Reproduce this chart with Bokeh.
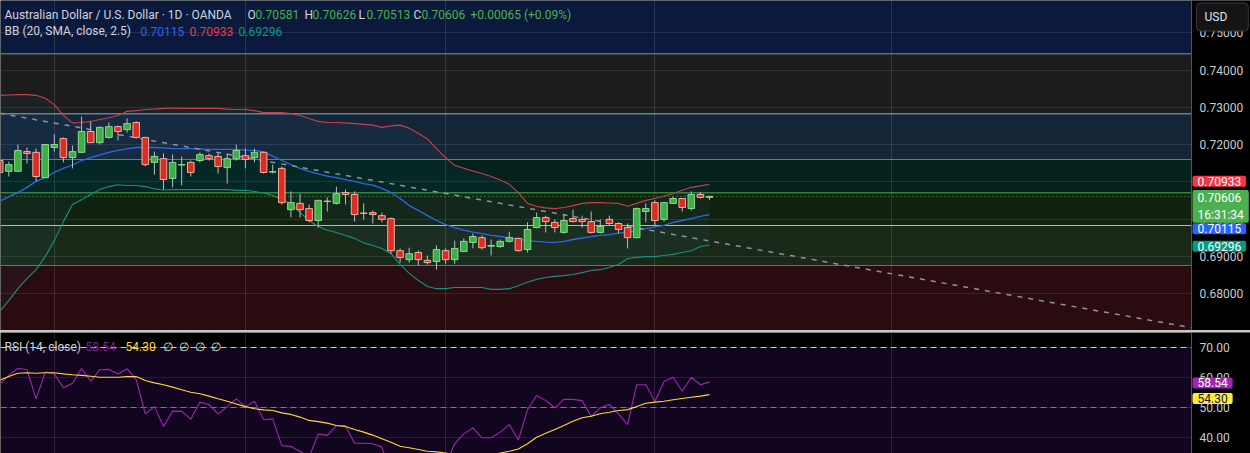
from bokeh.plotting import figure
from bokeh.layouts import column
from bokeh.models import (ColumnDataSource, Range1d, FixedTicker, NumeralTickFormatter,
                          BoxAnnotation, Span, Label, Spacer)
from bokeh.embed import file_html
from bokeh.resources import INLINE

# ---------------- data ----------------
bars = list(range(1, 80))

opens = [0.7157, 0.7128, 0.7128, 0.7181, 0.7179, 0.7111, 0.7192, 0.7216, 0.7165, 0.7179,
         0.7235, 0.7205, 0.7219, 0.7248, 0.7240, 0.7259, 0.7219, 0.7152, 0.7162, 0.7109,
         0.7145, 0.7152, 0.7157, 0.7170, 0.7168, 0.7138, 0.7162, 0.7170, 0.7165, 0.7179,
         0.7126, 0.7136, 0.7025, 0.7042, 0.7028, 0.6996, 0.7048, 0.7042, 0.7071, 0.7066,
         0.7016, 0.7017, 0.7009, 0.7001, 0.6915, 0.6891, 0.6910, 0.6889, 0.6886, 0.6915,
         0.6891, 0.6913, 0.6937, 0.6950, 0.6927, 0.6926, 0.6940, 0.6948, 0.6918, 0.6977,
         0.7004, 0.6991, 0.6964, 0.7001, 0.6999, 0.6993, 0.6964, 0.6999, 0.6988, 0.6977,
         0.6950, 0.7020, 0.7044, 0.6999, 0.7042, 0.7055, 0.7028, 0.7066, 0.70581]
highs = [0.7162, 0.7154, 0.7200, 0.7192, 0.7189, 0.7201, 0.7227, 0.7219, 0.7197, 0.7275,
         0.7262, 0.7248, 0.7259, 0.7251, 0.7270, 0.7262, 0.7221, 0.7181, 0.7176, 0.7173,
         0.7168, 0.7157, 0.7179, 0.7176, 0.7179, 0.7176, 0.7200, 0.7189, 0.7189, 0.7181,
         0.7146, 0.7141, 0.7074, 0.7068, 0.7039, 0.7051, 0.7058, 0.7087, 0.7079, 0.7074,
         0.7042, 0.7023, 0.7017, 0.7004, 0.6921, 0.6923, 0.6915, 0.6902, 0.6929, 0.6921,
         0.6942, 0.6948, 0.6961, 0.6956, 0.6945, 0.6945, 0.6966, 0.6950, 0.6991, 0.7017,
         0.7009, 0.6999, 0.7012, 0.7025, 0.7009, 0.7020, 0.6999, 0.7009, 0.6991, 0.6988,
         0.7031, 0.7042, 0.7050, 0.7046, 0.7060, 0.7056, 0.7074, 0.7072, 0.70626]
lows = [0.7119, 0.7114, 0.7127, 0.7149, 0.7101, 0.7110, 0.7181, 0.7152, 0.7136, 0.7177,
        0.7204, 0.7200, 0.7216, 0.7211, 0.7232, 0.7216, 0.7141, 0.7119, 0.7079, 0.7085,
        0.7090, 0.7114, 0.7152, 0.7157, 0.7122, 0.7095, 0.7157, 0.7136, 0.7152, 0.7122,
        0.7122, 0.7039, 0.7004, 0.7004, 0.6991, 0.6977, 0.7020, 0.7039, 0.7039, 0.6993,
        0.6999, 0.6988, 0.6991, 0.6907, 0.6883, 0.6883, 0.6875, 0.6878, 0.6864, 0.6880,
        0.6880, 0.6911, 0.6921, 0.6918, 0.6902, 0.6923, 0.6937, 0.6913, 0.6910, 0.6975,
        0.6964, 0.6964, 0.6961, 0.6991, 0.6977, 0.6961, 0.6961, 0.6983, 0.6961, 0.6921,
        0.6948, 0.6991, 0.6983, 0.6993, 0.7041, 0.7020, 0.7023, 0.7055, 0.70513]
closes = [0.7125, 0.7146, 0.7184, 0.7176, 0.7114, 0.7200, 0.7200, 0.7165, 0.7181, 0.7235,
          0.7205, 0.7246, 0.7248, 0.7235, 0.7256, 0.7219, 0.7146, 0.7168, 0.7106, 0.7152,
          0.7146, 0.7125, 0.7173, 0.7162, 0.7141, 0.7162, 0.7184, 0.7160, 0.7179, 0.7125,
          0.7127, 0.7044, 0.7044, 0.7025, 0.6996, 0.7050, 0.7047, 0.7068, 0.7066, 0.7012,
          0.7015, 0.7012, 0.6999, 0.6915, 0.6897, 0.6907, 0.6891, 0.6883, 0.6918, 0.6891,
          0.6921, 0.6940, 0.6953, 0.6923, 0.6929, 0.6940, 0.6950, 0.6915, 0.6972, 0.7004,
          0.6993, 0.6977, 0.6996, 0.6993, 0.6993, 0.6964, 0.6980, 0.6988, 0.6972, 0.6950,
          0.7028, 0.7028, 0.6996, 0.7044, 0.7055, 0.7031, 0.7066, 0.70581, 0.70606]

bb_upper = [0.7332, 0.7333, 0.7334, 0.7334, 0.7332, 0.7324, 0.7307, 0.7278, 0.7258, 0.7259,
            0.7262, 0.7267, 0.7272, 0.7278, 0.7289, 0.7291, 0.7294, 0.7295, 0.7297, 0.7298,
            0.7297, 0.7297, 0.7297, 0.7297, 0.7297, 0.7295, 0.7294, 0.7294, 0.7291, 0.7286,
            0.7286, 0.7286, 0.7283, 0.7278, 0.7270, 0.7262, 0.7259, 0.7259, 0.7258, 0.7256,
            0.7254, 0.7252, 0.7246, 0.7250, 0.7252, 0.7244, 0.7230, 0.7215, 0.7189, 0.7165,
            0.7144, 0.7136, 0.7129, 0.7122, 0.7114, 0.7105, 0.7093, 0.7071, 0.7042, 0.7034,
            0.7030, 0.7028, 0.7031, 0.7036, 0.7042, 0.7044, 0.7044, 0.7043, 0.7042, 0.7034,
            0.7042, 0.7050, 0.7055, 0.7062, 0.7068, 0.7077, 0.7085, 0.7089, 0.70933]
bb_middle = [0.7047, 0.7060, 0.7071, 0.7085, 0.7101, 0.7111, 0.7125, 0.7136, 0.7145, 0.7157,
             0.7165, 0.7172, 0.7179, 0.7184, 0.7188, 0.7192, 0.7192, 0.7192, 0.7191, 0.7189,
             0.7189, 0.7189, 0.7188, 0.7187, 0.7187, 0.7187, 0.7187, 0.7185, 0.7184, 0.7180,
             0.7169, 0.7157, 0.7146, 0.7136, 0.7128, 0.7121, 0.7115, 0.7111, 0.7106, 0.7101,
             0.7095, 0.7091, 0.7082, 0.7071, 0.7055, 0.7036, 0.7023, 0.7009, 0.6996, 0.6985,
             0.6977, 0.6970, 0.6965, 0.6961, 0.6956, 0.6953, 0.6950, 0.6946, 0.6942, 0.6940,
             0.6938, 0.6937, 0.6940, 0.6945, 0.6949, 0.6953, 0.6956, 0.6958, 0.6962, 0.6965,
             0.6969, 0.6974, 0.6979, 0.6983, 0.6991, 0.6996, 0.7001, 0.7007, 0.70115]
bb_lower = [0.6752, 0.6781, 0.6813, 0.6840, 0.6864, 0.6899, 0.6942, 0.6993, 0.7039, 0.7052,
            0.7066, 0.7079, 0.7087, 0.7092, 0.7090, 0.7090, 0.7087, 0.7081, 0.7078, 0.7079,
            0.7079, 0.7079, 0.7079, 0.7079, 0.7079, 0.7079, 0.7077, 0.7077, 0.7074, 0.7070,
            0.7063, 0.7052, 0.7042, 0.7017, 0.6996, 0.6980, 0.6970, 0.6964, 0.6956, 0.6948,
            0.6936, 0.6929, 0.6921, 0.6907, 0.6878, 0.6854, 0.6835, 0.6819, 0.6813, 0.6813,
            0.6816, 0.6816, 0.6816, 0.6816, 0.6811, 0.6811, 0.6813, 0.6821, 0.6830, 0.6838,
            0.6843, 0.6846, 0.6848, 0.6851, 0.6856, 0.6862, 0.6864, 0.6870, 0.6878, 0.6894,
            0.6897, 0.6899, 0.6899, 0.6902, 0.6905, 0.6910, 0.6915, 0.6926, 0.69296]

rsi = [57.7, 60.7, 63.1, 62.6, 52.9, 61.8, 61.2, 56.6, 58.1, 63.0,
       58.8, 62.6, 62.7, 61.2, 62.9, 59.3, 47.9, 50.3, 43.7, 48.8,
       48.7, 46.1, 51.8, 51.0, 47.9, 50.3, 52.9, 50.3, 52.1, 45.9,
       46.2, 37.3, 37.0, 35.4, 33.4, 41.2, 40.7, 44.0, 43.8, 38.1,
       38.1, 37.9, 36.8, 28.0, 26.0, 29.0, 27.0, 26.0, 32.0, 31.0,
       38.0, 41.2, 43.2, 39.9, 39.9, 41.8, 44.3, 39.2, 49.3, 54.0,
       52.3, 49.9, 52.7, 52.7, 52.3, 47.0, 49.9, 51.0, 47.9, 44.3,
       57.6, 57.6, 52.0, 58.7, 60.1, 55.4, 60.1, 57.6, 58.54]
rsi_ma = [59.1, 60.3, 61.4, 61.6, 61.4, 61.6, 61.6, 61.2, 60.9, 60.7,
          60.4, 60.1, 60.1, 60.1, 60.3, 60.3, 59.0, 58.2, 57.6, 56.8,
          55.9, 55.1, 54.6, 53.8, 52.9, 52.1, 51.2, 50.3, 49.6, 49.2,
          49.0, 48.2, 47.7, 46.8, 45.7, 45.3, 44.8, 44.0, 43.7, 42.7,
          41.8, 40.8, 39.6, 38.4, 37.1, 36.6, 36.0, 35.4, 35.2, 34.8,
          34.3, 34.1, 34.1, 34.1, 34.3, 34.8, 35.4, 36.2, 37.9, 40.1,
          41.4, 42.7, 44.0, 45.4, 46.6, 47.1, 47.9, 48.4, 49.0, 49.3,
          50.3, 51.4, 51.8, 52.1, 52.6, 53.0, 53.4, 53.8, 54.30]

price_ticks = [0.68, 0.69, 0.70, 0.71, 0.72, 0.73, 0.74, 0.75]
rsi_ticks = [40, 50, 60, 70]
month_ticks = [7, 28, 50, 73, 99]

zone_edges = [0.74435, 0.72824, 0.71597, 0.70703, 0.69826, 0.68752]
zone_fills = ["#0b1a3c", "#1c1c1c", "#162536", "#04211b", "#122210", "#1a2917", "#2a0b0f"]
edge_colors = ["#8d9099", "#86b4e0", "#2a9c8c", "#4fb04f", "#9fd49a", "#d04545"]

trend_bars = [1, 132]
trend_prices = [0.7284, 0.6708]

rsi_band_top, rsi_band_mid, rsi_band_low = 70, 50, 30

title_text = "Australian Dollar / U.S. Dollar \u00b7 1D \u00b7 OANDA"
ohlc_names = ["O", "H", "L", "C"]
ohlc_vals = ["0.70581", "0.70626", "0.70513", "0.70606"]
change_text = "+0.00065 (+0.09%)"
bb_text = "BB (20, SMA, close, 2.5)"
rsi_text = "RSI (14, close)"
countdown = "16:31:34"
currency = "USD"

# ---------------- layout ----------------
W = 1250
H1 = 330
H2 = 121
FONT = "Roboto"
X_START = 1.088
X_AXIS = 131.97          # bar position where the price scale begins
X_END = 138.45

xr = Range1d(X_START, X_END)


def base(height, yr):
    f = figure(width=W, height=height, x_range=xr, y_range=yr, output_backend="svg",
               toolbar_location=None, x_axis_location=None, y_axis_location="right",
               min_border_left=0, min_border_right=0, min_border_top=0, min_border_bottom=0,
               background_fill_color="#000000", border_fill_color="#000000",
               outline_line_color=None)
    f.xgrid.ticker = FixedTicker(ticks=month_ticks)
    f.xgrid.grid_line_color = "#ffffff"
    f.xgrid.grid_line_alpha = 0.12
    return f


def style_axis(f, ticks, fmt):
    f.ygrid.ticker = FixedTicker(ticks=ticks)
    f.ygrid.grid_line_color = "#ffffff"
    f.ygrid.grid_line_alpha = 0.09
    # black price-scale area, drawn over glyphs but under the axis labels
    f.add_layout(BoxAnnotation(left=X_AXIS, fill_color="#000000", fill_alpha=1.0,
                               line_color=None, level="glyph"))
    ax = f.yaxis[0]
    ax.fixed_location = X_AXIS
    ax.ticker = FixedTicker(ticks=ticks)
    ax.formatter = NumeralTickFormatter(format=fmt)
    ax.major_tick_line_color = None
    ax.minor_tick_line_color = None
    ax.major_tick_out = 0
    ax.major_tick_in = 0
    ax.axis_line_color = "#555555"
    ax.major_label_text_color = "#c8cbd2"
    ax.major_label_text_font = FONT
    ax.major_label_text_font_size = "12px"
    ax.major_label_standoff = 8


p = base(H1, Range1d(0.67007, 0.75866))

# horizontal zones
bounds = [None] + zone_edges + [None]
for i, col in enumerate(zone_fills):
    kw = {}
    if bounds[i] is not None:
        kw["top"] = bounds[i]
    if bounds[i + 1] is not None:
        kw["bottom"] = bounds[i + 1]
    p.add_layout(BoxAnnotation(fill_color=col, fill_alpha=1.0, line_color=None,
                               level="image", **kw))
for e, c in zip(zone_edges, edge_colors):
    p.add_layout(Span(location=e, dimension="width", line_color=c, line_width=1,
                      level="underlay"))

# Bollinger band fill and lines
p.varea(x=bars, y1=bb_lower, y2=bb_upper, fill_color="#2196f3", fill_alpha=0.05)
p.line(bars, bb_upper, line_color="#c4404f", line_width=1.1)
p.line(bars, bb_middle, line_color="#2f66e6", line_width=1.3)
p.line(bars, bb_lower, line_color="#17907f", line_width=1.1)

# trend line
p.line(trend_bars, trend_prices, line_color="#8e929c", line_width=1.5, line_dash="5 6")

# last price dotted line
p.add_layout(Span(location=closes[-1], dimension="width", line_color="#4caf50",
                  line_width=1, line_dash="1 3", level="underlay"))

# candles
up = [c >= o for o, c in zip(opens, closes)]
src = ColumnDataSource(dict(
    x=bars, o=opens, h=highs, l=lows, c=closes,
    top=[max(o, c) for o, c in zip(opens, closes)],
    bot=[min(o, c) for o, c in zip(opens, closes)],
    fill=["#3fae49" if u else "#dc2d25" for u in up],
    edge=["#8fd68f" if u else "#f7b09a" for u in up],
))
p.segment(x0="x", y0="l", x1="x", y1="h", source=src, line_color="#b9bcc4", line_width=1)
p.vbar(x="x", width=0.72, top="top", bottom="bot", source=src,
       fill_color="fill", line_color="edge", line_width=1)

style_axis(p, price_ticks, "0.00000")


def txt(fig, x, y, text, color, size="12px"):
    fig.add_layout(Label(x=x, x_units="screen", y=y, y_units="data", text=text,
                         text_color=color, text_font=FONT, text_font_size=size,
                         text_baseline="middle", text_align="left"))


# legend texts (top left)
y1 = 0.7549
y2 = 0.75034
txt(p, 4, y1, title_text, "#d1d4dc")
for name, val, xn in zip(ohlc_names, ohlc_vals, [247, 304, 358, 413]):
    txt(p, xn, y1, name, "#d1d4dc")
    txt(p, xn + 8, y1, val, "#4caf50")
txt(p, 470, y1, change_text, "#4caf50")
txt(p, 4, y2, bb_text, "#d1d4dc")
txt(p, 140, y2, f"{bb_middle[-1]:.5f}", "#2962ff")
txt(p, 189, y2, f"{bb_upper[-1]:.5f}", "#f23645")
txt(p, 238, y2, f"{bb_lower[-1]:.5f}", "#089981")

# price-scale value boxes
TAG_X = 1192


def tag(fig, yv, text, bg, fg="#ffffff", yoff=0):
    fig.add_layout(Label(x=TAG_X, x_units="screen", y=yv, y_units="data", y_offset=yoff,
                         text=text, text_color=fg, text_font=FONT, text_font_size="12px",
                         text_baseline="middle", text_align="left",
                         background_fill_color=bg, background_fill_alpha=1.0,
                         padding=dict(left=5, right=5, top=1, bottom=1), border_radius=2))


tag(p, bb_upper[-1], f"{bb_upper[-1]:.5f}", "#f23645", yoff=3)
tag(p, closes[-1], f"{closes[-1]:.5f}\n{countdown}", "#4caf50", yoff=-10)
tag(p, bb_middle[-1], f"{bb_middle[-1]:.5f}", "#2962ff", yoff=-14)
tag(p, bb_lower[-1], f"{bb_lower[-1]:.5f}", "#089981", yoff=-1)

# currency button
p.add_layout(Label(x=1196, x_units="screen", y=0.75423, y_units="data", text=currency,
                   text_color="#e0e3eb", text_font=FONT, text_font_size="12px",
                   text_baseline="middle", text_align="left",
                   background_fill_color="#141414", background_fill_alpha=1.0,
                   border_line_color="#3a3a3a", border_line_width=1,
                   padding=dict(left=8, right=21, top=7, bottom=7), border_radius=4))

# ---------------- RSI pane ----------------
r = base(H2, Range1d(34.67, 75.0))
r.add_layout(BoxAnnotation(bottom=rsi_band_low, top=rsi_band_top, fill_color="#120520",
                           fill_alpha=1.0, line_color=None, level="image"))
r.add_layout(Span(location=rsi_band_top, dimension="width", line_color="#c8c8c8",
                  line_width=1, line_dash="6 4", level="underlay"))
r.add_layout(Span(location=rsi_band_mid, dimension="width", line_color="#787b86",
                  line_width=1, line_dash="6 4", level="underlay"))
r.line(bars, rsi, line_color="#9c27b0", line_width=1.1)
r.line(bars, rsi_ma, line_color="#fdd835", line_width=1.1)
style_axis(r, rsi_ticks, "0.00")

ry = 70.33
txt(r, 4, ry, rsi_text, "#d1d4dc")
txt(r, 85, ry, f"{rsi[-1]:.2f}", "#7b1fa2")
txt(r, 125, ry, f"{rsi_ma[-1]:.2f}", "#fdd835")
for xn in [162, 178, 194, 210]:
    txt(r, xn, ry, "\u2205", "#d1d4dc")

tag(r, rsi[-1], f"{rsi[-1]:.2f}", "#9c27b0", yoff=-1)
tag(r, rsi_ma[-1], f"{rsi_ma[-1]:.2f}", "#ffeb3b", fg="#131722", yoff=-4)

sep = Spacer(width=W, height=2, styles={"background-color": "#c8c8c8"})

layout = column(p, sep, r, spacing=0)
open("out.html", "w").write(file_html(layout, INLINE))
